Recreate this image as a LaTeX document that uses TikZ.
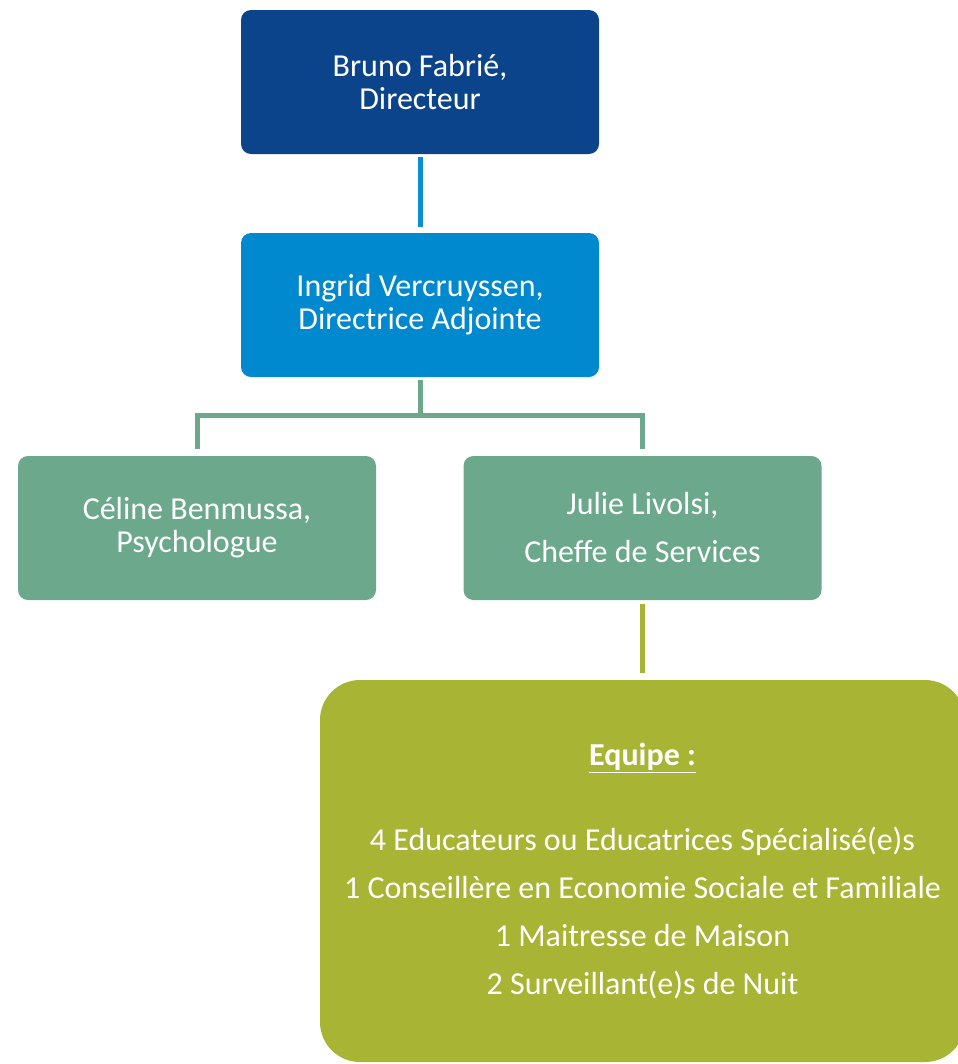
\documentclass[tikz,border=0pt]{standalone}
\usepackage{fontspec}
\setmainfont{Carlito}
\usepackage{xcolor}
\usepackage{tikz}
\usetikzlibrary{positioning,calc}

\definecolor{dirblue}{HTML}{0B448A}
\definecolor{adjblue}{HTML}{0089CF}
\definecolor{linkblue}{HTML}{0B8FD0}
\definecolor{sagegreen}{HTML}{6CA88C}
\definecolor{olive}{HTML}{A8B433}

\tikzset{
    postbox/.style={rectangle, rounded corners=7.5pt, text=white, align=center,
        minimum width=268.5pt, minimum height=108pt, inner sep=0pt,
        font=\fontsize{24}{24.75}\selectfont},
    link/.style={line width=3.75pt}
}

\begin{document}
\begin{tikzpicture}[x=0.75pt, y=-0.75pt]
    \useasboundingbox (0,0) rectangle (957,1064);

    % Direction
    \node [postbox, fill=dirblue] (dir) at (420, 82) {Bruno Fabrié,\\Directeur};
    \node [postbox, fill=adjblue] (adj) at (420, 305) {Ingrid Vercruyssen,\\Directrice Adjointe};

    % Cadres
    \node [postbox, fill=sagegreen] (psy) at (197, 528) {Céline Benmussa,\\Psychologue};
    \node [postbox, fill=sagegreen, font=\fontsize{24}{36}\selectfont] (chef) at (642.5, 528) {Julie Livolsi,\\Cheffe de Services};

    % Equipe
    \node [rectangle, rounded corners=30pt, fill=olive, text=white, align=center,
        minimum width=483.75pt, minimum height=286.5pt, inner sep=0pt,
        font=\fontsize{24}{36}\selectfont] (team) at (642.5, 871)
        {\underline{\textbf{Equipe :}}\\[27.75pt]
         4 Educateurs ou Educatrices Spécialisé(e)s\\
         1 Conseillère en Economie Sociale et Familiale\\
         1 Maitresse de Maison\\
         2 Surveillant(e)s de Nuit};

    % Liens
    \draw [link, linkblue, shorten <=2.25pt, shorten >=4.5pt] (dir.south) -- (adj.north);
    \coordinate (split) at (420, 415);
    \draw [link, sagegreen, shorten <=2.25pt] (adj.south) -- (split);
    \draw [link, sagegreen, shorten <=5pt] (psy.north) |- (split) -| ([yshift=5pt]chef.north);
    \draw [link, olive, shorten <=3pt, shorten >=5pt] (chef.south) -- (chef.south |- team.north);
\end{tikzpicture}
\end{document}
